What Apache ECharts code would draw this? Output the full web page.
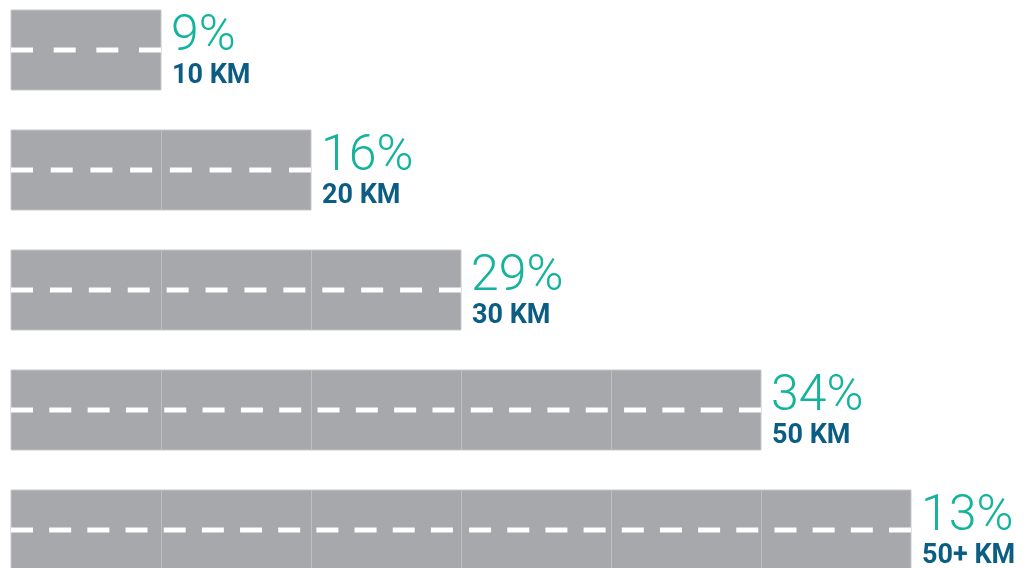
<!DOCTYPE html>
<html>
<head>
<meta charset="utf-8">
<script src="https://cdn.jsdelivr.net/npm/echarts@6/dist/echarts.min.js"></script>
<style>
html,body{margin:0;padding:0;background:#fff;}
#chart{width:1029px;height:568px;}
</style>
</head>
<body>
<div id="chart"></div>
<script>
const categories = ['10 KM', '20 KM', '30 KM', '50 KM', '50+ KM'];
const segments = [1, 2, 3, 5, 6];
const percents = [9, 16, 29, 34, 13];

const chart = echarts.init(document.getElementById('chart'));

function renderItem(params, api) {
  const v = api.value(0);
  const idx = api.value(1);
  const start = api.coord([0, idx]);
  const end = api.coord([v, idx]);
  const band = api.size([0, 1])[1];
  const h = band * 2 / 3;
  const cy = start[1];
  const top = cy - h / 2;
  const children = [];
  children.push({
    type: 'rect',
    shape: { x: start[0], y: top, width: end[0] - start[0], height: h },
    style: { fill: '#a7a8ab', stroke: '#c6c7c9', lineWidth: 1 }
  });
  for (let k = 1; k < v; k++) {
    const x = Math.round(api.coord([k, idx])[0]) + 0.5;
    children.push({
      type: 'line',
      shape: { x1: x, y1: top, x2: x, y2: top + h },
      style: { stroke: '#bebfc1', lineWidth: 1 }
    });
  }
  const n = 4 * v;
  const d = 22;
  const L = end[0] - start[0];
  const p = (L - d) / (n - 1);
  for (let i = 0; i < n; i++) {
    children.push({
      type: 'rect',
      shape: { x: start[0] + i * p, y: cy - 2.5, width: d, height: 5 },
      style: { fill: '#ffffff' }
    });
  }
  children.push({
    type: 'text',
    style: {
      x: end[0] + 10, y: cy - 13,
      text: percents[idx] + '%',
      fill: '#14b39b',
      font: '300 50px Roboto',
      align: 'left', verticalAlign: 'middle'
    }
  });
  children.push({
    type: 'text',
    style: {
      x: end[0] + 11, y: cy + 26,
      text: categories[idx],
      fill: '#0c5d84',
      font: 'bold 27px Roboto',
      align: 'left', verticalAlign: 'middle'
    }
  });
  return { type: 'group', children: children };
}

chart.setOption({
  animation: false,
  grid: { left: 11, top: -10, width: 1050, height: 600, containLabel: false, outerBoundsMode: 'none' },
  xAxis: { type: 'value', min: 0, max: 7, show: false },
  yAxis: { type: 'category', data: categories, inverse: true, show: false },
  series: [{
    type: 'custom',
    renderItem: renderItem,
    encode: { x: 0, y: 1 },
    data: segments.map((s, i) => [s, i])
  }]
});
</script>
</body>
</html>
